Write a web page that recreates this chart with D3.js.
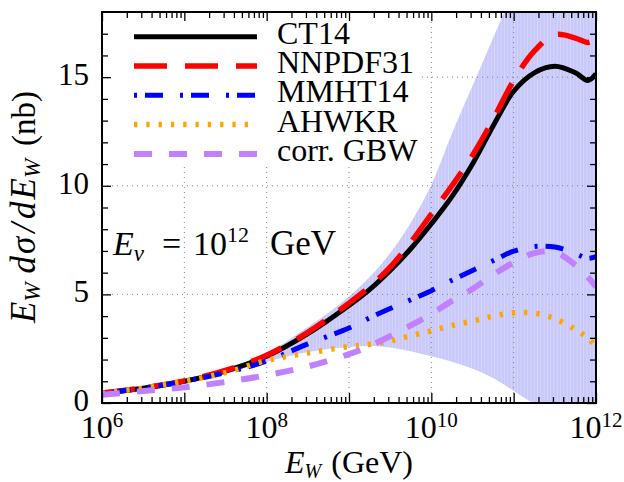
<!DOCTYPE html>
<html>
<head>
<meta charset="utf-8">
<script src="https://cdn.jsdelivr.net/npm/d3@7"></script>
<style>
  body { margin: 0; background: #fff; }
  text { font-family: "Liberation Serif", "DejaVu Serif", serif; fill: #000; }
</style>
</head>
<body>
<svg id="chart" width="624" height="482"></svg>
<script>
// log10(E_W / GeV) sample points
var logE   = [6, 6.5, 7, 7.5, 8, 8.5, 9, 9.25, 9.5, 9.75, 10, 10.25, 10.5, 10.75, 11, 11.25, 11.5, 11.75, 11.9, 12];
var ct14   = [0.45, 0.68, 1.0, 1.47, 2.15, 3.19, 4.49, 5.22, 6.1, 7.1, 8.25, 9.5, 11.0, 12.75, 14.35, 15.2, 15.5, 15.2, 14.85, 15.15];
var nnpdf  = [0.46, 0.7, 1.02, 1.5, 2.2, 3.25, 4.6, 5.35, 6.25, 7.4, 8.7, 10.0, 11.4, 13.05, 14.85, 16.2, 16.95, 16.8, 16.6, 16.75];
var mmht   = [0.45, 0.69, 1.0, 1.4, 1.93, 2.72, 3.45, 3.92, 4.35, 4.75, 5.17, 5.65, 6.1, 6.55, 6.99, 7.2, 7.18, 6.88, 6.66, 6.74];
var ahwkr  = [0.45, 0.69, 1.0, 1.4, 1.96, 2.3, 2.6, 2.7, 2.85, 3.1, 3.32, 3.57, 3.77, 4.0, 4.15, 4.14, 3.88, 3.38, 3.0, 2.6];
var gbw    = [0.38, 0.55, 0.72, 0.97, 1.28, 1.68, 2.25, 2.62, 3.08, 3.57, 4.1, 4.7, 5.25, 5.9, 6.47, 6.9, 6.95, 6.35, 5.8, 5.35];
var bandHi = [0.5, 0.72, 1.05, 1.55, 2.3, 3.5, 4.9, 5.8, 6.9, 8.3, 10.05, 12.4, 14.6, 16.8, 19.0, 21.2, 23.3, 25.4, 26.7, 27.5];
var bandLo = [0.4, 0.64, 0.95, 1.35, 1.9, 2.35, 2.57, 2.62, 2.55, 2.38, 2.15, 1.9, 1.58, 1.15, 0.55, -0.05, -0.7, -1.4, -1.8, -2.1];

var seriesNames = ["CT14", "NNPDF31", "MMHT14", "AHWKR", "corr. GBW"];
var seriesVals  = [ct14, nnpdf, mmht, ahwkr, gbw];
var colors      = ["#000000", "#ff0000", "#0000ff", "#ffa500", "#c080ff"];
var dashes      = [null, "33,18", "3,8,18,17", "3.3,9", "18,17"];
var widths      = [5, 5.5, 5, 5.5, 6];

var yMajor = [0, 5, 10, 15];
var xLabelExp = [6, 8, 10, 12];

var svg = d3.select("#chart");
var L = 102, R = 596, T = 12, B = 403;
var fs = 31;

var x = d3.scaleLog().domain([1e6, 1e12]).range([L, R]);
var y = d3.scaleLinear().domain([0, 18]).range([B, T]);

var defs = svg.append("defs");
defs.append("clipPath").attr("id", "clip")
  .append("rect").attr("x", L).attr("y", T).attr("width", R - L).attr("height", B - T);

var pat = defs.append("pattern").attr("id", "stripes")
  .attr("patternUnits", "userSpaceOnUse").attr("width", 3.3).attr("height", 10);
pat.append("rect").attr("width", 3.3).attr("height", 10).attr("fill", "#c8c8fa");
pat.append("rect").attr("x", 2.6).attr("width", 0.7).attr("height", 10).attr("fill", "#ffffff").attr("opacity", 0.35);

var plot = svg.append("g").attr("clip-path", "url(#clip)");

// uncertainty band
var bandData = logE.map(function(k, i){ return {e: Math.pow(10, k), lo: bandLo[i], hi: bandHi[i]}; });
var area = d3.area()
  .x(function(d){ return x(d.e); })
  .y0(function(d){ return y(d.lo); })
  .y1(function(d){ return y(d.hi); })
  .curve(d3.curveMonotoneX);
plot.append("path").datum(bandData).attr("d", area).attr("fill", "url(#stripes)");

// grid
var gridX = [1e7, 1e8, 1e9, 1e10, 1e11];
plot.selectAll(".gx").data(gridX).enter().append("line")
  .attr("x1", function(d){ return x(d); }).attr("x2", function(d){ return x(d); })
  .attr("y1", T).attr("y2", B)
  .attr("stroke", "#777").attr("stroke-width", 0.9).attr("stroke-dasharray", "1,4");
plot.selectAll(".gy").data([5, 10, 15]).enter().append("line")
  .attr("x1", L).attr("x2", R)
  .attr("y1", function(d){ return y(d); }).attr("y2", function(d){ return y(d); })
  .attr("stroke", "#777").attr("stroke-width", 0.9).attr("stroke-dasharray", "1,4");

// legend box (opaque)
svg.append("rect").attr("x", 106).attr("y", 14).attr("width", 312).attr("height", 152).attr("fill", "#fff");

// curves
var line = d3.line()
  .x(function(d){ return x(d.e); })
  .y(function(d){ return y(d.v); })
  .curve(d3.curveCatmullRom.alpha(0.5));

seriesVals.forEach(function(vals, s){
  var data = logE.map(function(k, i){ return {e: Math.pow(10, k), v: vals[i]}; });
  plot.append("path").datum(data)
    .attr("d", line)
    .attr("fill", "none")
    .attr("stroke", colors[s])
    .attr("stroke-width", widths[s])
    .attr("stroke-dasharray", dashes[s]);
});

// ticks
var xMinor = [];
for (var dec = 6; dec < 12; dec++) {
  for (var m = 2; m <= 9; m++) xMinor.push(m * Math.pow(10, dec));
}
var xMajor = [1e6, 1e7, 1e8, 1e9, 1e10, 1e11, 1e12];
var yMinor = d3.range(1, 18).filter(function(v){ return v % 5 !== 0; });

function tickGroup(axis, tx, ty) {
  var g = svg.append("g").attr("transform", "translate(" + tx + "," + ty + ")").call(axis);
  g.select(".domain").remove();
  g.selectAll("line").attr("stroke", "#000").attr("stroke-width", 1.3);
  return g;
}
tickGroup(d3.axisBottom(x).tickValues(xMajor).tickSize(-10).tickFormat(""), 0, B);
tickGroup(d3.axisBottom(x).tickValues(xMinor).tickSize(-6).tickFormat(""), 0, B);
tickGroup(d3.axisTop(x).tickValues(xMajor).tickSize(-9).tickFormat(""), 0, T);
tickGroup(d3.axisTop(x).tickValues(xMinor).tickSize(-6).tickFormat(""), 0, T);
tickGroup(d3.axisLeft(y).tickValues(yMajor).tickSize(-9).tickFormat(""), L, 0);
tickGroup(d3.axisLeft(y).tickValues(yMinor).tickSize(-6).tickFormat(""), L, 0);
tickGroup(d3.axisRight(y).tickValues(yMajor).tickSize(-9).tickFormat(""), R, 0);
tickGroup(d3.axisRight(y).tickValues(yMinor).tickSize(-6).tickFormat(""), R, 0);

// frame
svg.append("rect").attr("x", L).attr("y", T).attr("width", R - L).attr("height", B - T)
  .attr("fill", "none").attr("stroke", "#000").attr("stroke-width", 2);

// y tick labels
svg.selectAll(".yl").data(yMajor).enter().append("text")
  .attr("x", 89).attr("y", function(d){ return y(d) + 8; })
  .attr("text-anchor", "end").attr("font-size", fs)
  .text(function(d){ return d; });

// x tick labels 10^k
xLabelExp.forEach(function(k){
  var t = svg.append("text").attr("x", x(Math.pow(10, k))).attr("y", B + 35)
    .attr("text-anchor", "middle").attr("font-size", 32);
  t.append("tspan").text("10");
  t.append("tspan").attr("font-size", 21).attr("dy", -11).text(k);
});

// x axis title
var xt = svg.append("text").attr("x", 285).attr("y", 473).attr("font-size", 32);
xt.append("tspan").attr("font-style", "italic").text("E");
xt.append("tspan").attr("font-style", "italic").attr("font-size", 20).attr("dy", 5).text("W");
svg.append("text").attr("x", 413).attr("y", 473).attr("text-anchor", "end")
  .attr("font-size", 32).text("(GeV)");

// y axis title
var yg = svg.append("g").attr("transform", "translate(35,323) rotate(-90)");
var yt = yg.append("text").attr("x", 0).attr("y", 0).attr("font-size", 35).attr("font-style", "italic");
yt.append("tspan").text("E");
yt.append("tspan").attr("font-size", 23).attr("dy", 5).text("W");
yt.append("tspan").attr("dx", 9).attr("dy", -5).text("d");
yt.append("tspan").attr("dx", 2).text("σ");
yt.append("tspan").attr("dx", 4).text("/");
yt.append("tspan").attr("dx", 4).text("d");
yt.append("tspan").attr("dx", 2).text("E");
yt.append("tspan").attr("font-size", 23).attr("dy", 5).text("W");
yg.append("text").attr("x", 232).attr("y", 0).attr("text-anchor", "end")
  .attr("font-size", 33).text("(nb)");

// annotation
var an = svg.append("text").attr("x", 113).attr("y", 255).attr("font-size", 34);
an.append("tspan").attr("font-style", "italic").text("E");
an.append("tspan").attr("font-style", "italic").attr("font-size", 23).attr("dy", 6).text("ν");
an.append("tspan").attr("x", 162).attr("dy", -6).text("=");
an.append("tspan").attr("x", 193).text("10");
an.append("tspan").attr("font-size", 22).attr("dy", -13).text("12");
svg.append("text").attr("x", 336).attr("y", 255).attr("text-anchor", "end")
  .attr("font-size", 35).text("GeV");

// legend
seriesNames.forEach(function(name, s){
  var ly = 36.7 + 29.3 * s;
  svg.append("line").attr("x1", 134).attr("x2", 257).attr("y1", ly).attr("y2", ly)
    .attr("stroke", colors[s]).attr("stroke-width", widths[s]).attr("stroke-dasharray", dashes[s]);
  svg.append("text").attr("x", 277).attr("y", ly + 7).attr("font-size", 32).text(name);
});
</script>
</body>
</html>
